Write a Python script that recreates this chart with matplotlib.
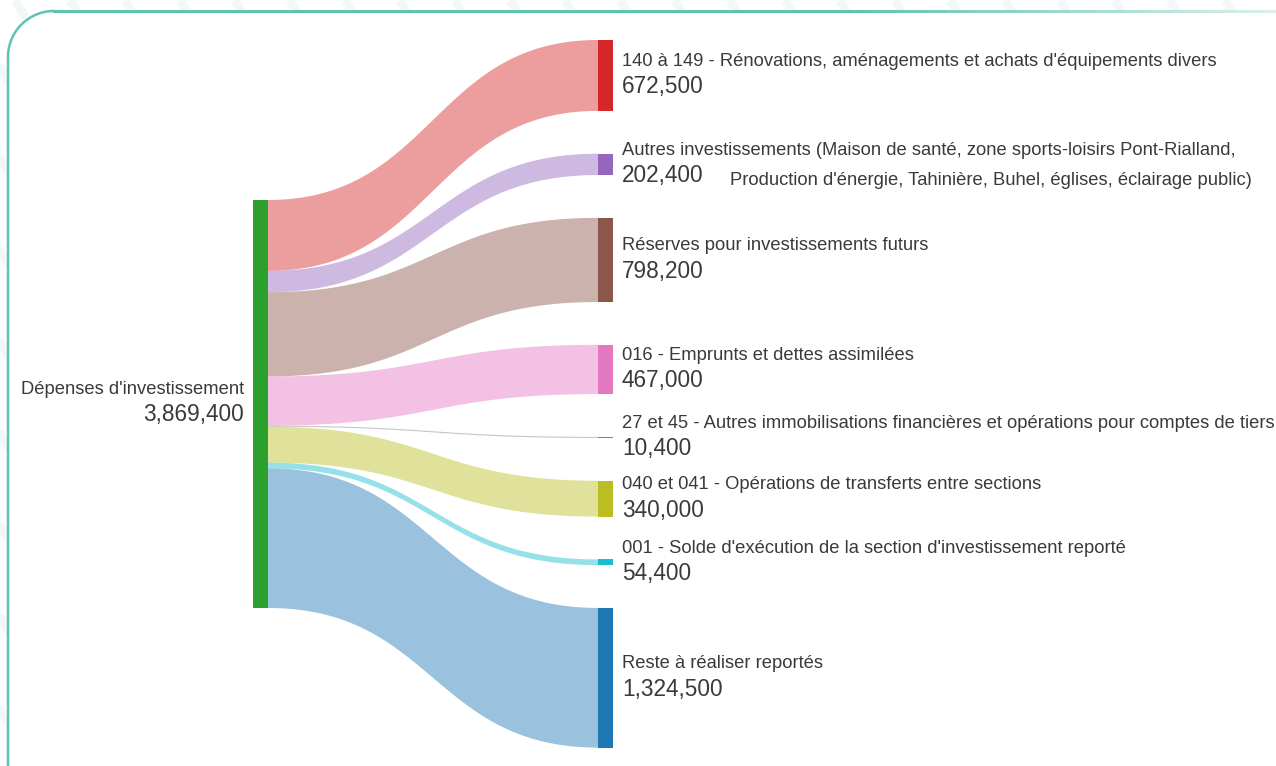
import numpy as np
import matplotlib.pyplot as plt
from matplotlib.patches import FancyBboxPatch, Rectangle, Polygon
from matplotlib.collections import LineCollection
from matplotlib.colors import to_rgb

# Données du diagramme de Sankey (dépenses d'investissement)
source_label = "Dépenses d'investissement"
source_value = 3869400

target_labels = [
    "140 à 149 - Rénovations, aménagements et achats d'équipements divers",
    "Autres investissements (Maison de santé, zone sports-loisirs Pont-Rialland,",
    "Réserves pour investissements futurs",
    "016 - Emprunts et dettes assimilées",
    "27 et 45 - Autres immobilisations financières et opérations pour comptes de tiers",
    "040 et 041 - Opérations de transferts entre sections",
    "001 - Solde d'exécution de la section d'investissement reporté",
    "Reste à réaliser reportés",
]
target_values = [672500, 202400, 798200, 467000, 10400, 340000, 54400, 1324500]
label_suite = {1: "Production d'énergie, Tahinière, Buhel, églises, éclairage public)"}

source_color = '#2ca02c'
target_colors = ['#d62728', '#9467bd', '#8c564b', '#e377c2',
                 '#7f7f7f', '#bcbd22', '#17becf', '#1f77b4']

# Mise en page (en pixels)
W, H = 1276, 766
node_w = 15
x_src, x_tgt = 253, 598
src_top = 200
tgt_top = 40
gap = 42.8
scale = 408 / source_value  # pixels par euro

text_color = '#3a3a3a'
font = 'Liberation Sans'
fs_label = 13.2
fs_value = 16.3
frame_color = '#62c2b0'

fig = plt.figure(figsize=(W / 100, H / 100), dpi=100)
ax = fig.add_axes([0, 0, 1, 1])
ax.set_xlim(0, W)
ax.set_ylim(H, 0)
ax.axis('off')

# fond rayé + cadre arrondi
for x in np.arange(-700, 1400, 55):
    ax.plot([x, x + 0.6 * H], [0, H], color='#f1f8f7', lw=6, zorder=0,
            solid_capstyle='butt')
r = 46
frame = FancyBboxPatch((8, 11), 1500, 1000, boxstyle=f'round,pad=0,rounding_size={r}',
                       facecolor='white', edgecolor='none', zorder=1)
ax.add_patch(frame)
th = np.linspace(0, np.pi / 2, 40)
ax.plot(np.concatenate([[8], 8 + r - r * np.cos(th)]),
        np.concatenate([[H + 10], 11 + r - r * np.sin(th)]),
        color=frame_color, lw=1.8, zorder=1.5)
# le haut du cadre s'estompe vers la droite
xs = np.linspace(8 + r, W, 120)
c0, c1 = np.array(to_rgb(frame_color)), np.array(to_rgb('#dcf0ec'))
f = np.clip((xs[:-1] - 850) / (W - 850), 0, 1)[:, None]
segs = [[(xs[k], 11), (xs[k + 1], 11)] for k in range(len(xs) - 1)]
ax.add_collection(LineCollection(segs, colors=c0 * (1 - f) + c1 * f, lw=1.8,
                                 capstyle='projecting', antialiased=False, zorder=1.5))


def bezier(x0, y0, x1, y1, n=80):
    t = np.linspace(0, 1, n)
    cx = (x0 + x1) / 2
    xs = (1 - t) ** 3 * x0 + 3 * (1 - t) ** 2 * t * cx + 3 * (1 - t) * t ** 2 * cx + t ** 3 * x1
    ys = (1 - t) ** 3 * y0 + 3 * (1 - t) ** 2 * t * y0 + 3 * (1 - t) * t ** 2 * y1 + t ** 3 * y1
    return xs, ys


# liens et noeuds cibles
sy = src_top
ty = tgt_top
for i, (lab, val, col) in enumerate(zip(target_labels, target_values, target_colors)):
    h = val * scale
    xa, ya = bezier(x_src + node_w, sy, x_tgt, ty)
    xb, yb = bezier(x_src + node_w, sy + h, x_tgt, ty + h)
    pts = np.column_stack([np.concatenate([xa, xb[::-1]]), np.concatenate([ya, yb[::-1]])])
    ax.add_patch(Polygon(pts, closed=True, facecolor=col, alpha=0.45, lw=0, zorder=2))

    ax.add_patch(Rectangle((x_tgt, ty), node_w, max(h, 1), facecolor=col, lw=0, zorder=3))
    cy = ty + h / 2
    ax.text(x_tgt + 24, cy - 14, lab, fontsize=fs_label, family=font, color=text_color,
            va='center', ha='left', zorder=4)
    ax.text(x_tgt + 24, cy + 11.5, f"{val:,}", fontsize=fs_value, family=font,
            color=text_color, va='center', ha='left', zorder=4)
    if i in label_suite:
        ax.text(730, cy + 16, label_suite[i], fontsize=fs_label, family=font,
                color=text_color, va='center', ha='left', zorder=4)
    sy += h
    ty += h + gap

# noeud source
ax.add_patch(Rectangle((x_src, src_top), node_w, source_value * scale,
                       facecolor=source_color, lw=0, zorder=3))
cy = src_top + source_value * scale / 2
ax.text(x_src - 9, cy - 15, source_label, fontsize=fs_label, family=font, color=text_color,
        va='center', ha='right', zorder=4)
ax.text(x_src - 9, cy + 11, f"{source_value:,}", fontsize=fs_value, family=font,
        color=text_color, va='center', ha='right', zorder=4)

fig.savefig('out.png', dpi=100)
